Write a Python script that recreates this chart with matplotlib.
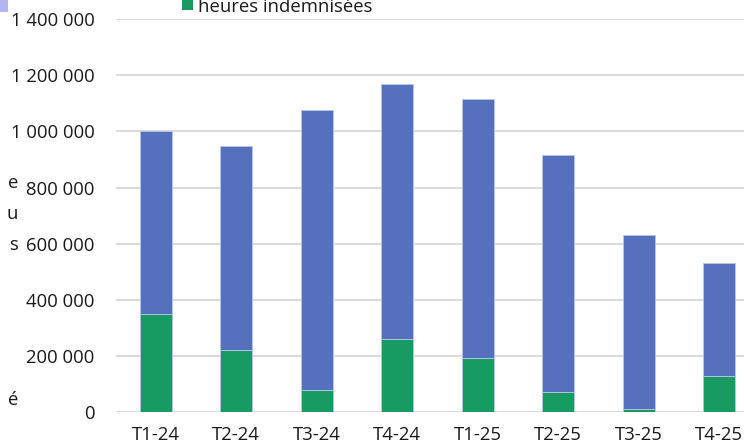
import matplotlib
matplotlib.use("Agg")
import matplotlib.pyplot as plt
from matplotlib.ticker import FuncFormatter
from matplotlib.patches import Rectangle
import numpy as np

categories = ["T1-24", "T2-24", "T3-24", "T4-24", "T1-25", "T2-25", "T3-25", "T4-25"]
totals = [1000000, 948000, 1076000, 1170000, 1115000, 915000, 631000, 532000]
indemnisees = [349000, 221000, 78000, 260000, 194000, 73000, 10000, 128000]
autres = [t - g for t, g in zip(totals, indemnisees)]
legend_label = "heures indemnisées"
left_fragments = ["e", "u", "s", "é"]

plt.rcParams['font.family'] = ['Open Sans', 'DejaVu Sans']
FS = 13.3

W, H = 744, 446
fig = plt.figure(figsize=(W / 100, H / 100), dpi=100)
ax_left = 115.5 / W
ax_right = 759.5 / W
ax_bottom = 1 - 412.3 / H
ax_top = 1 - 19.0 / H
ax = fig.add_axes([ax_left, ax_bottom, ax_right - ax_left, ax_top - ax_bottom])

blue = "#5571BE"
green = "#189B62"
x = np.arange(len(categories))
w = 0.40
ax.bar(x, indemnisees, w, color=green, edgecolor="#b9c6e6", linewidth=0.6, zorder=3)
ax.bar(x, autres, w, bottom=indemnisees, color=blue, edgecolor="#b9c6e6", linewidth=0.6, zorder=3)

ax.set_xlim(-0.5, len(categories) - 0.5)
ax.set_ylim(0, 1400000)
ax.set_yticks(np.arange(0, 1400001, 200000))
ax.yaxis.set_major_formatter(FuncFormatter(lambda v, p: f"{int(v):,}".replace(",", " ")))
ax.set_xticks(x)
ax.set_xticklabels(categories)
ax.grid(axis="y", color="#d9d9d9", linewidth=1.3, zorder=0)
for s in ax.spines.values():
    s.set_visible(False)
ax.tick_params(axis="both", length=0, labelsize=FS, colors="#1a1a1a")
ax.tick_params(axis="y", pad=15)
ax.tick_params(axis="x", pad=10)

# legend fragment (cropped at top)
fig.patches.append(Rectangle((182 / W, 1 - 10 / H), 11 / W, 10 / H, transform=fig.transFigure,
                             facecolor=green, edgecolor="none"))
fig.text(198 / W, 1 - 12 / H, legend_label, fontsize=FS, color="#1a1a1a", va="baseline", ha="left")
# cropped element in top-left corner
fig.patches.append(Rectangle((0, 1 - 12 / H), 8 / W, 12 / H, transform=fig.transFigure,
                             facecolor="#b4b4f2", edgecolor="none"))
# cropped left-side text fragments
for txt, yy in zip(left_fragments, [183, 214, 245, 400]):
    fig.text(18 / W, 1 - yy / H, txt, fontsize=FS, color="#1a1a1a", va="center", ha="right")

fig.savefig("out.png", dpi=100)
